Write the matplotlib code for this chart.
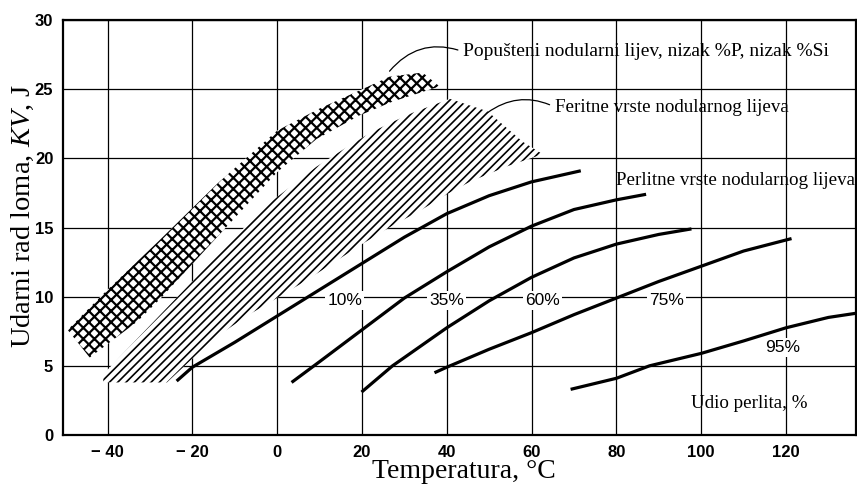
import numpy as np
import matplotlib.pyplot as plt

plt.rcParams['font.family'] = ['Liberation Sans', 'DejaVu Sans']
plt.rcParams['mathtext.fontset'] = 'custom'
plt.rcParams['mathtext.rm'] = 'Liberation Serif'
plt.rcParams['mathtext.it'] = 'Liberation Serif:italic'

# axis ticks
temp_ticks = [-40, -20, 0, 20, 40, 60, 80, 100, 120]
temp_tick_labels = ['\u2212 40', '\u2212 20', '0', '20', '40', '60', '80', '100', '120']
kv_ticks = [0, 5, 10, 15, 20, 25, 30]

# tempered nodular iron, low P, low Si (cross-hatched band)
tempered_up_t = [-49.4, -41, -28, -14, 0, 10, 19.4, 26.5, 34.3, 38.3]
tempered_up_kv = [7.6, 10.2, 14.0, 18.2, 22.0, 23.6, 24.9, 25.9, 26.2, 25.2]
tempered_lo_t = [38.3, 27.2, 19.4, 9.3, 0, -13.6, -27.7, -33, -44.2, -49.4]
tempered_lo_kv = [25.2, 24.1, 23.1, 21.4, 19.0, 14.5, 9.8, 8.2, 5.6, 7.6]

# ferritic nodular iron (hatched band)
ferritic_up_t = [-41, -3.4, 9.3, 16.4, 22.3, 27.7, 32, 40.7, 49.6, 57.9, 62.6]
ferritic_up_kv = [4.4, 16.4, 19.4, 20.8, 21.9, 22.7, 23.3, 24.3, 23.4, 21.2, 20.3]
ferritic_lo_t = [62.6, 54, 45.4, 40, 33.6, 27, 20, 7, 0.5, -7.2, -15.2, -26, -41]
ferritic_lo_kv = [20.3, 19.4, 18.3, 17.4, 16.2, 15.1, 13.8, 11.2, 10.0, 8.6, 6.9, 3.8, 3.8]

# pearlitic nodular iron, by pearlite share
p10_t = [-23.7, -20, -10, 0, 10, 20, 30, 40, 50, 60, 71.6]
p10_kv = [3.9, 4.9, 6.7, 8.6, 10.5, 12.4, 14.3, 16.0, 17.3, 18.3, 19.1]
p35_t = [3.4, 10, 20, 30, 40, 50, 60, 70, 80, 87]
p35_kv = [3.8, 5.3, 7.6, 9.9, 11.8, 13.6, 15.1, 16.3, 17.0, 17.4]
p60_t = [19.9, 27.2, 30, 40, 50, 60, 70, 80, 90, 97.7]
p60_kv = [3.1, 5.0, 5.6, 7.75, 9.7, 11.4, 12.8, 13.8, 14.5, 14.9]
p75_t = [37.1, 40, 50, 60, 70, 80, 90, 100, 110, 121.3]
p75_kv = [4.5, 4.9, 6.2, 7.4, 8.7, 9.9, 11.1, 12.2, 13.3, 14.2]
p95_t = [69.2, 80, 87.8, 100, 110, 120, 130, 136.5]
p95_kv = [3.3, 4.1, 5.0, 5.9, 6.8, 7.75, 8.5, 8.8]

pearlite_labels = ['10%', '35%', '60%', '75%', '95%']
label_t = [15.9, 40, 62.6, 91.8, 119.2]
label_kv = [9.7, 9.7, 9.7, 9.7, 6.3]

fig = plt.figure(figsize=(8.57, 4.87), dpi=100)
ax = fig.add_axes([63 / 857, 1 - 435 / 487, 793 / 857, 415 / 487])
ax.set_xlim(-50.5, 136.5)
ax.set_ylim(0, 30)

ax.set_xticks(temp_ticks)
ax.set_xticklabels(temp_tick_labels)
ax.set_yticks(kv_ticks)
ax.tick_params(length=0, labelsize=12, pad=7)
for lab in ax.get_xticklabels() + ax.get_yticklabels():
    lab.set_fontweight('bold')
ax.grid(True, color='black', linewidth=0.9)
ax.set_axisbelow(True)
for s in ax.spines.values():
    s.set_linewidth(1.6)

# bands
plt.rcParams['hatch.linewidth'] = 1.6
ax.fill(tempered_up_t + tempered_lo_t, tempered_up_kv + tempered_lo_kv,
        facecolor='white', edgecolor='black', hatch='xxx', linewidth=0, zorder=3)
plt.rcParams['hatch.linewidth'] = 1.2
ax.fill(ferritic_up_t + ferritic_lo_t, ferritic_up_kv + ferritic_lo_kv,
        facecolor='white', edgecolor='black', hatch='////', linewidth=0, zorder=3)

# pearlitic curves
for t, kv in [(p10_t, p10_kv), (p35_t, p35_kv), (p60_t, p60_kv),
              (p75_t, p75_kv), (p95_t, p95_kv)]:
    ax.plot(t, kv, color='black', linewidth=2.3, solid_capstyle='butt', zorder=4)

for lab, t, kv in zip(pearlite_labels, label_t, label_kv):
    ax.text(t, kv, lab, ha='center', va='center', fontsize=12.5, zorder=5,
            bbox=dict(facecolor='white', edgecolor='none', pad=1.5))

serif = 'Liberation Serif'
ax.annotate('Popušteni nodularni lijev, nizak %P, nizak %Si',
            xy=(26.5, 26.3), xytext=(43.9, 27.7), family=serif, fontsize=14,
            va='center', ha='left', zorder=5,
            arrowprops=dict(arrowstyle='-', color='black', lw=0.9, relpos=(0, 0.5),
                            connectionstyle='arc3,rad=0.35', shrinkA=2, shrinkB=0))
ax.annotate('Feritne vrste nodularnog lijeva',
            xy=(49.6, 23.3), xytext=(65.5, 23.7), family=serif, fontsize=13.7,
            va='center', ha='left', zorder=5,
            arrowprops=dict(arrowstyle='-', color='black', lw=0.9, relpos=(0, 0.5),
                            connectionstyle='arc3,rad=0.3', shrinkA=2, shrinkB=0))
ax.text(80, 18.4, 'Perlitne vrste nodularnog lijeva', family=serif, fontsize=13.7,
        va='center', ha='left', zorder=5)
ax.text(97.7, 2.3, 'Udio perlita, %', family=serif, fontsize=13.7,
        va='center', ha='left', zorder=5)

ax.set_xlabel('Temperatura, °C', family=serif, fontsize=20)
ax.set_ylabel('Udarni rad loma, $KV$, J', family=serif, fontsize=20.5)
ax.xaxis.set_label_coords(0.506, -0.058)
ax.yaxis.set_label_coords(-0.034, 0.528)

fig.savefig('out.png', dpi=100)
